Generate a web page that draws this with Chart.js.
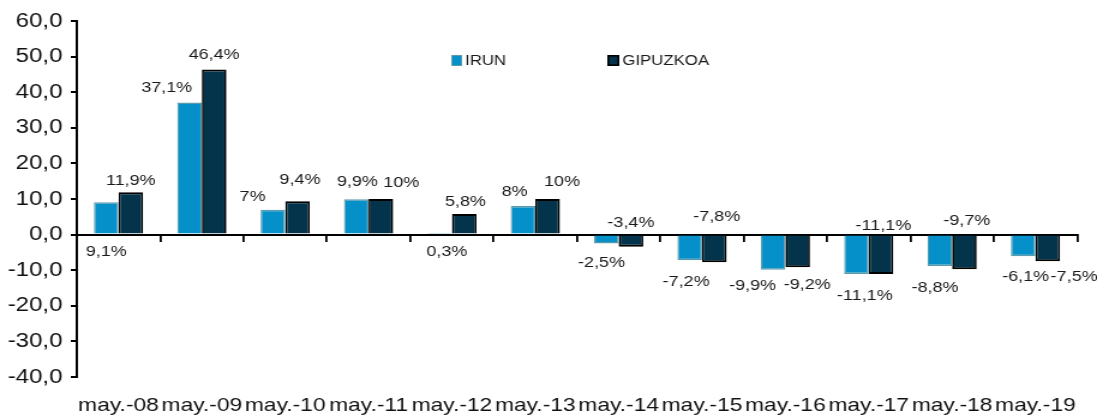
<!DOCTYPE html>
<html>
<head>
<meta charset="utf-8">
<script src="https://cdn.jsdelivr.net/npm/chart.js@4/dist/chart.umd.min.js"></script>
<style>
  html, body { margin: 0; padding: 0; background: #fff; overflow: hidden; }
  /* the reference is a horizontally stretched image, so draw narrow and stretch */
  #chart { width: 1097px; height: 419px; }
</style>
</head>
<body>
<canvas id="chart" width="914" height="419" style="width:1097px;height:419px"></canvas>
<script>
const categories = ['may.-08', 'may.-09', 'may.-10', 'may.-11', 'may.-12', 'may.-13',
                    'may.-14', 'may.-15', 'may.-16', 'may.-17', 'may.-18', 'may.-19'];
const irun = [9.1, 37.1, 7, 9.9, 0.3, 8, -2.5, -7.2, -9.9, -11.1, -8.8, -6.1];
const gipuzkoa = [11.9, 46.4, 9.4, 10, 5.8, 10, -3.4, -7.8, -9.2, -11.1, -9.7, -7.5];
const yTicks = [-40, -30, -20, -10, 0, 10, 20, 30, 40, 50, 60];

// label placement: [anchor ('e' bar end / 'b' base), dx, dy] - the source labels were hand-moved
const irunLabelPos = [['b', 0, 18], ['e', -19, -1], ['e', -17, 1], ['e', 1, -3], ['b', 6, 18], ['e', -7, 0],
                      ['e', -4, 5], ['e', -3, 8], ['e', -17, 2], ['e', 7, 8], ['e', -4, 8], ['e', 2, 7]];
const gipLabelPos = [['e', 0, 3], ['e', 0, -1], ['e', 2, -7], ['e', 17, -2], ['e', 1, 2], ['e', 12, -3],
                     ['b', 0, -13], ['b', 2, -19], ['e', 8, 4], ['b', 2, -10], ['b', 2, -15], ['e', 22, 2]];

const FONT = "'Liberation Sans', Arial, sans-serif";

function fmt(v, decimals) {
    return v.toFixed(decimals).replace('.', ',');
}

// ===== DATA LABELS =====
const valueLabels = {
    id: 'valueLabels',
    afterDatasetsDraw(chart) {
        const ctx = chart.ctx;
        const places = [irunLabelPos, gipLabelPos];
        ctx.save();
        ctx.font = '15px ' + FONT;
        ctx.fillStyle = '#1a1a1a';
        ctx.textAlign = 'center';
        ctx.textBaseline = 'middle';
        chart.data.datasets.forEach((ds, i) => {
            chart.getDatasetMeta(i).data.forEach((bar, j) => {
                const v = ds.data[j];
                const [anchor, dx, dy] = places[i][j];
                let y;
                if (anchor === 'e') {
                    y = bar.y + (v >= 0 ? -14 : 14) + dy;
                } else {
                    y = bar.base + dy;
                }
                const txt = (Number.isInteger(v) ? String(v) : fmt(v, 1)) + '%';
                ctx.fillText(txt, bar.x + dx, y);
            });
        });
        ctx.restore();
    }
};

// ===== LEGEND =====
const miniLegend = {
    id: 'miniLegend',
    afterDraw(chart) {
        const ctx = chart.ctx;
        const items = [
            { ds: chart.data.datasets[0], x: 376, w: 9, lw: 1 },
            { ds: chart.data.datasets[1], x: 506, w: 10, lw: 1.6 }
        ];
        ctx.save();
        ctx.font = '14px ' + FONT;
        ctx.textBaseline = 'middle';
        ctx.textAlign = 'left';
        items.forEach(it => {
            ctx.fillStyle = it.ds.backgroundColor;
            ctx.fillRect(it.x, 55, it.w, 11);
            ctx.strokeStyle = it.ds.borderColor;
            ctx.lineWidth = it.lw;
            ctx.strokeRect(it.x + it.lw / 2, 55 + it.lw / 2, it.w - it.lw, 11 - it.lw);
            ctx.fillStyle = '#1a1a1a';
            ctx.fillText(it.ds.label, it.x + it.w + 2.5, 61);
        });
        ctx.restore();
    }
};

new Chart(document.getElementById('chart'), {
    type: 'bar',
    data: {
        labels: categories,
        datasets: [{
            label: 'IRUN',
            data: irun,
            backgroundColor: '#0590c9',
            borderColor: '#5b9aab',
            borderWidth: { top: 1.5, bottom: 1.5, left: 1.2, right: 1.2 },
            borderSkipped: 'start',
            minBarLength: 1.5,
            categoryPercentage: 0.59,
            barPercentage: 1.0
        }, {
            label: 'GIPUZKOA',
            data: gipuzkoa,
            backgroundColor: '#03344b',
            borderColor: '#000000',
            borderWidth: { top: 2, bottom: 2, left: 1.7, right: 1.7 },
            borderSkipped: 'start',
            categoryPercentage: 0.59,
            barPercentage: 1.0
        }]
    },
    options: {
        responsive: false,
        devicePixelRatio: 1,
        animation: false,
        layout: { padding: { left: 0, top: 21, right: 16, bottom: 0 } },
        plugins: {
            legend: { display: false },
            tooltip: { enabled: false }
        },
        scales: {
            x: {
                type: 'category',
                position: { y: 0 },
                offset: true,
                ticks: { display: false },
                grid: {
                    drawOnChartArea: false,
                    drawTicks: true,
                    tickLength: 6,
                    color: '#000',
                    lineWidth: 1.8,
                    offset: true
                },
                border: { display: true, color: '#000', width: 2 }
            },
            x2: {
                type: 'category',
                position: 'bottom',
                offset: true,
                grid: { display: false, drawTicks: false },
                border: { display: false },
                ticks: {
                    autoSkip: false,
                    maxRotation: 0,
                    minRotation: 0,
                    padding: 17,
                    color: '#111',
                    font: { family: FONT, size: 19 }
                },
                afterFit(scale) { scale.height = 42; }
            },
            y: {
                position: 'left',
                min: -40,
                max: 60,
                afterBuildTicks(scale) {
                    scale.ticks = yTicks.map(v => ({ value: v }));
                },
                ticks: {
                    padding: 7,
                    color: '#111',
                    font: { family: FONT, size: 20 },
                    callback: v => fmt(v, 1)
                },
                grid: {
                    drawOnChartArea: false,
                    drawTicks: true,
                    tickLength: 5,
                    color: '#000',
                    lineWidth: 2
                },
                border: { display: true, color: '#000', width: 2 },
                afterFit(scale) { scale.width = 64; }
            }
        }
    },
    plugins: [valueLabels, miniLegend]
});
</script>
</body>
</html>
